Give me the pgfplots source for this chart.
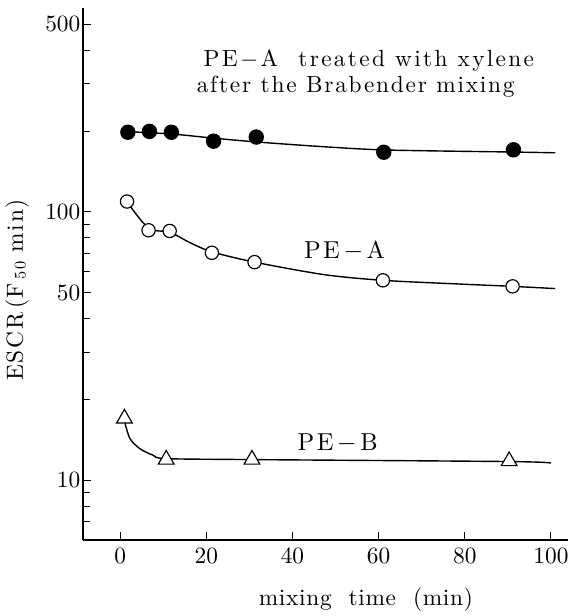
\documentclass[border=0pt]{standalone}
\usepackage{fontspec}
\usepackage{pgfplots}
\pgfplotsset{compat=1.18}
\usetikzlibrary{calc}

% same Latin Modern file as the default, but as a fontspec family so tracking works
\newfontfamily\lm{lmroman10-regular}[Extension=.otf, Ligatures=TeX]
\newcommand{\track}[2]{{\lm\addfontfeature{LetterSpace=#1}#2}}

% marks
\pgfplotstableread{
x y
1.8 198
6.8 199.5
11.9 198
21.7 183.4
31.6 190
61.2 166.8
91.3 170.3
}\xylene
\pgfplotstableread{
x y
1.6 109.3
6.6 85.4
11.5 84.9
21.3 70.4
31.2 65.0
61.0 55.6
91.1 52.8
}\pea
\pgfplotstableread{
x y
1.0 17.0
10.7 11.95
30.6 11.95
90.3 11.8
}\peb

\begin{document}
\begin{tikzpicture}
\begin{axis}[
    scale only axis,
    width=207.9pt, height=228pt,
    ymode=log,
    xmin=-8.6, xmax=104,
    ymin=6, ymax=575,
    axis lines=left,
    axis line style={-, line width=0.8pt},
    tick align=inside,
    tick style={black, line width=0.4pt},
    major tick length=3.5pt,
    minor tick length=3pt,
    xtick={0,20,...,100},
    ytick={10,50,100,500},
    yticklabels={10,50,100,500},
    minor ytick={7,8,9,20,30,40,60,70,80,90,200,300,400},
    yticklabel style={inner xsep=1pt},
    xlabel={\track{3}{mixing\ \ time\ \ (min)}},
    ylabel={\track{7}{ESCR\,(F\,\raisebox{-1.2pt}{\scriptsize 50}\ min)}},
    xlabel style={at={(axis description cs:0.583,-0.113)}, anchor=center},
    ylabel style={at={(axis description cs:-0.136,0.47)}, anchor=center},
    every axis plot/.append style={line width=0.6pt},
]
% fitted curves
\addplot[black, no marks, smooth, tension=0.5] coordinates {
(1.6,199) (12,195) (22,188) (32,182) (47,175) (62,170) (92,167) (101,166)};
\addplot[black, no marks, smooth, tension=0.5] coordinates {
(1.6,109) (6.6,87) (11.5,84) (16.3,76.7) (21.3,71) (31.2,65) (47.3,58.4)
(61,55.6) (78.3,53.9) (91,52.8) (101,51.8)};
\addplot[black, no marks, smooth, tension=0.5] coordinates {
(1.1,16.4) (2.3,14.3) (4.65,13.1) (7.7,12.4) (10.7,12.05) (30.6,11.95) (90.3,11.75) (100,11.6)};

% measured points
\addplot[only marks, mark=*, mark size=3pt, draw=black, fill=black] table {\xylene};
\addplot[only marks, mark=*, mark size=2.85pt, draw=black, fill=white, line width=0.5pt] table {\pea};
\addplot[only marks, mark=triangle*, mark size=3.9pt, draw=black, fill=white, line width=0.5pt] table {\peb};

\node[anchor=base west, inner sep=0pt] at (axis cs:19.3,349) {\track{10}{PE\kern1pt$-$\kern1pt A\ \ treated with xylene}};
\node[anchor=base west, inner sep=0pt] at (axis cs:17.7,279) {\track{7.5}{after the Brabender mixing}};
\node[anchor=base, inner sep=0pt, font=\fontsize{10.5}{12}\selectfont] at (axis cs:52.1,67) {\track{10}{PE\kern1.5pt$-$\kern1.5pt A}};
\node[anchor=base, inner sep=0pt, font=\fontsize{10.5}{12}\selectfont] at (axis cs:50.5,12.95) {\track{10}{PE\kern1.5pt$-$\kern1.5pt B}};
\end{axis}
\pgfresetboundingbox
\path[use as bounding box] ($(current axis.south west)+(-35.6pt,-32.6pt)$) rectangle ($(current axis.north east)+(1.3pt,3.4pt)$);
\end{tikzpicture}
\end{document}
